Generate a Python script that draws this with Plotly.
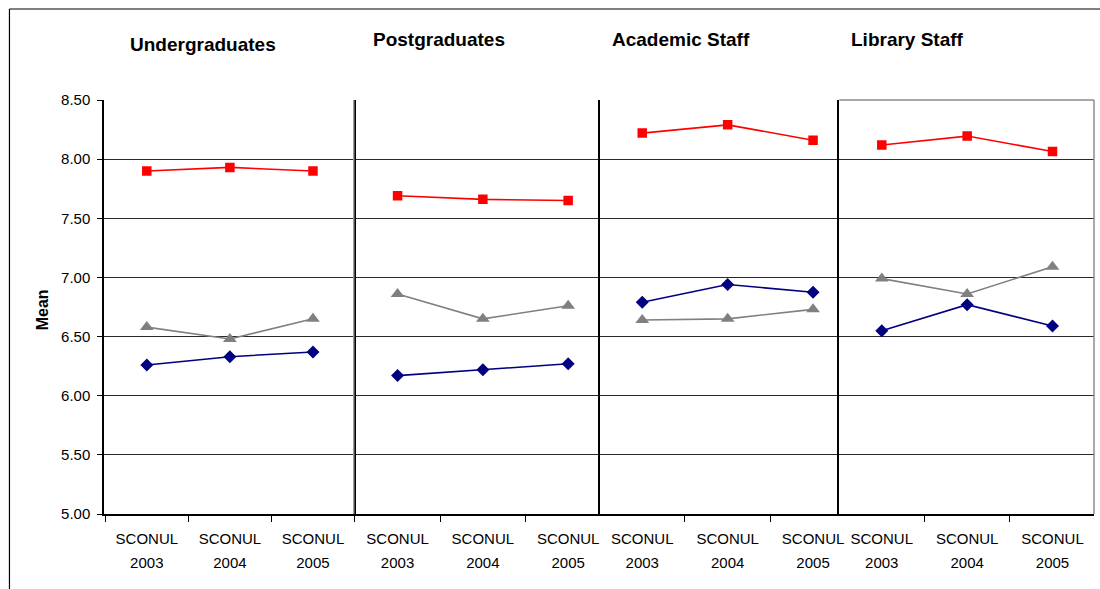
import plotly.graph_objects as go

# Survey means by respondent group and survey year
groups = ["Undergraduates", "Postgraduates", "Academic Staff", "Library Staff"]
years = ["2003", "2004", "2005"]
survey_label = "SCONUL"

desired = {
    "Undergraduates": [7.90, 7.93, 7.90],
    "Postgraduates": [7.69, 7.66, 7.65],
    "Academic Staff": [8.22, 8.29, 8.16],
    "Library Staff": [8.12, 8.195, 8.065],
}
adequate = {
    "Undergraduates": [6.26, 6.33, 6.37],
    "Postgraduates": [6.17, 6.22, 6.27],
    "Academic Staff": [6.79, 6.94, 6.875],
    "Library Staff": [6.55, 6.77, 6.59],
}
perceived = {
    "Undergraduates": [6.58, 6.48, 6.65],
    "Postgraduates": [6.86, 6.65, 6.76],
    "Academic Staff": [6.64, 6.65, 6.73],
    "Library Staff": [6.99, 6.86, 7.09],
}

y_ticks = [5.0, 5.5, 6.0, 6.5, 7.0, 7.5, 8.0, 8.5]

# panel layout (paper fractions) and category ranges per panel
domains = [[0.0, 0.2543], [0.2543, 0.5015], [0.5015, 0.7427], [0.7427, 1.0]]
x_ranges = [[-0.515, 2.515], [-0.49, 2.379], [-0.489, 2.307], [-0.498, 2.486]]

series_styles = [
    (desired, "#FF0000", "square", 9.5),
    (perceived, "#808080", "triangle-up", 12),
    (adequate, "#000080", "diamond", 10),
]

FONT = "Liberation Sans, Arial, sans-serif"

fig = go.Figure()
for i, g in enumerate(groups):
    xa = "x" if i == 0 else f"x{i + 1}"
    ya = "y" if i == 0 else f"y{i + 1}"
    for data, color, symbol, size in series_styles:
        fig.add_trace(go.Scatter(
            x=years, y=data[g], xaxis=xa, yaxis=ya,
            mode="lines+markers",
            line=dict(color=color, width=1.6),
            marker=dict(symbol=symbol, size=size, color=color, line=dict(width=0)),
            showlegend=False, hoverinfo="skip",
        ))
    # empty trace so the year-label axis of this panel is drawn
    fig.add_trace(go.Scatter(x=[], y=[], xaxis=f"x{i + 5}", yaxis=ya,
                             mode="markers", showlegend=False, hoverinfo="skip"))

layout = dict(
    width=1100, height=589,
    margin=dict(l=104, r=1, t=100, b=75),
    paper_bgcolor="white", plot_bgcolor="white",
    font=dict(family=FONT, size=15, color="black"),
    showlegend=False,
)

for i in range(4):
    xkey = "xaxis" if i == 0 else f"xaxis{i + 1}"
    ykey = "yaxis" if i == 0 else f"yaxis{i + 1}"
    ya = "y" if i == 0 else f"y{i + 1}"
    xa = "x" if i == 0 else f"x{i + 1}"
    # category axis: boundary ticks and the survey name line
    layout[xkey] = dict(
        domain=domains[i], anchor=ya,
        type="category", categoryorder="array", categoryarray=years,
        tickmode="array", tickvals=years, ticktext=[survey_label] * len(years),
        range=x_ranges[i],
        showgrid=False, zeroline=False,
        showline=True, linecolor="black", linewidth=1.5,
        ticks="outside", ticklen=6, tickcolor="black", tickwidth=1,
        tickson="boundaries", ticklabelstandoff=10,
        tickfont=dict(family=FONT, size=15, color="black"),
    )
    # companion axis carrying the year line below the survey name
    layout[f"xaxis{i + 5}"] = dict(
        domain=domains[i], anchor=ya, overlaying=xa,
        type="linear", range=x_ranges[i],
        tickmode="array", tickvals=list(range(len(years))), ticktext=years,
        showgrid=False, zeroline=False, showline=False, ticks="",
        ticklabelstandoff=38,
        tickfont=dict(family=FONT, size=15, color="black"),
    )
    ydict = dict(
        domain=[0, 1], anchor=xa,
        range=[5.0, 8.5], tickvals=y_ticks,
        showgrid=True, gridcolor="#2a2a2a", gridwidth=1,
        zeroline=False,
        showline=True, linecolor="black", linewidth=1.5,
    )
    if i == 0:
        ydict.update(
            ticks="outside", ticklen=5, tickcolor="black",
            tickformat=".2f", ticklabelstandoff=4,
            tickfont=dict(family=FONT, size=15, color="black"),
        )
    else:
        ydict.update(matches="y", showticklabels=False, ticks="")
    layout[ykey] = ydict

fig.update_layout(**layout)

# light border on the right and top of the plot area; panel 1 right edge
fig.add_shape(type="line", xref="paper", yref="paper", x0=1.0, x1=1.0, y0=0, y1=1,
              line=dict(color="#8c8c8c", width=1.5))
fig.add_shape(type="line", xref="paper", yref="paper", x0=0.7427, x1=1.0, y0=1, y1=1,
              line=dict(color="#8c8c8c", width=1.5))
fig.add_shape(type="line", xref="paper", yref="paper", x0=0.2523, x1=0.2523, y0=0, y1=1,
              line=dict(color="#9a9a9a", width=1.5))

# ticks on the category axis at the panel edges
for xp in [0.2543, 0.5015, 0.7427, 1.0]:
    fig.add_shape(type="line", xref="paper", yref="y", ysizemode="pixel", yanchor=5.0,
                  x0=xp, x1=xp, y0=0, y1=-6, line=dict(color="black", width=1))

# outer chart frame
fig.add_shape(type="line", xref="paper", yref="paper", x0=-0.0955, x1=-0.0955,
              y0=-0.25, y1=1.2198, line=dict(color="black", width=1.2))
fig.add_shape(type="line", xref="paper", yref="paper", x0=-0.0955, x1=1.01,
              y0=1.2198, y1=1.2198, line=dict(color="black", width=1.2))

# group headings
title_pos = [(0.1005, 1.1329), (0.3387, 1.1473), (0.5829, 1.1473), (0.812, 1.145)]
for g, (xp, yp) in zip(groups, title_pos):
    fig.add_annotation(text=f"<b>{g}</b>", xref="paper", yref="paper", x=xp, y=yp,
                       xanchor="center", yanchor="middle", showarrow=False,
                       font=dict(family=FONT, size=19, color="black"))

fig.add_annotation(text="<b>Mean</b>", xref="paper", yref="paper", x=-0.0613, y=0.4928,
                   xanchor="center", yanchor="middle", textangle=-90, showarrow=False,
                   font=dict(family=FONT, size=16, color="black"))

fig.write_html("out.html")
